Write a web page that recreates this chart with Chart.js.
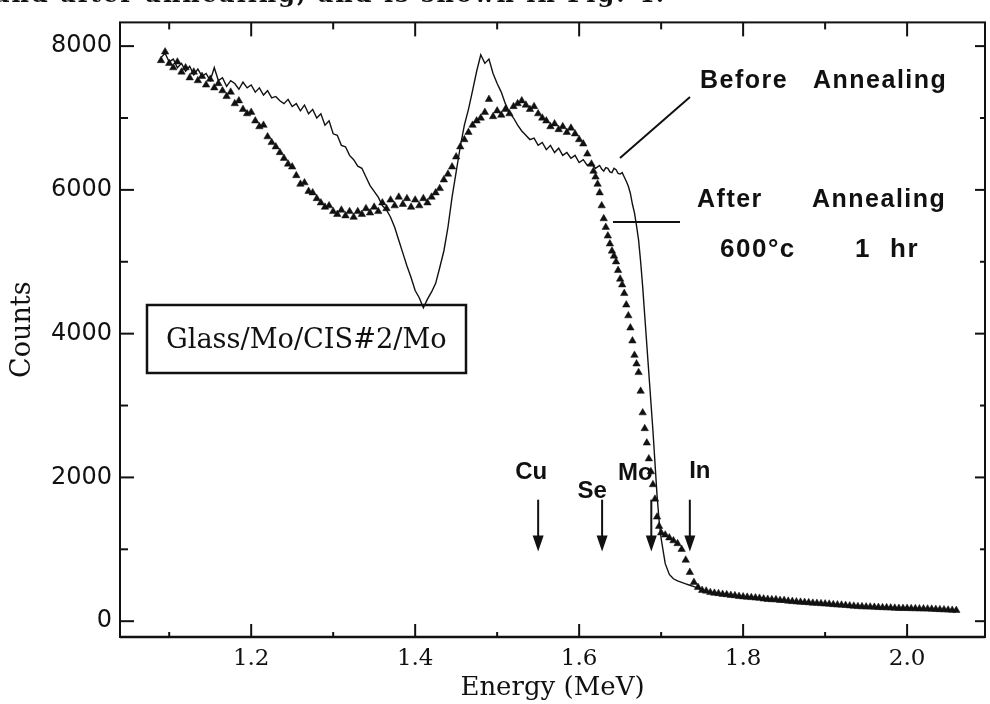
<!DOCTYPE html>
<html>
<head>
<meta charset="utf-8">
<script src="https://cdn.jsdelivr.net/npm/chart.js@4/dist/chart.umd.min.js"></script>
<style>
  html, body { margin: 0; padding: 0; background: #fff; }
  #wrap { width: 990px; height: 704px; }
</style>
</head>
<body>
<div id="wrap"><canvas id="rbsChart" width="990" height="704"></canvas></div>
<script>
// Energy channels (MeV), sampled finer on the steep edge
const energyA = [1.09,1.095,1.1,1.105,1.11,1.115,1.12,1.125,1.13,1.135,1.14,1.145,1.15,1.155,1.16,1.165,1.17,1.175,1.18,1.185,1.19,1.195,1.2,1.205,1.21,1.215,1.22,1.225,1.23,1.235,1.24,1.245,1.25,1.255,1.26,1.265,1.27,1.275,1.28,1.285,1.29,1.295,1.3,1.305,1.31,1.315,1.32,1.325,1.33,1.335,1.34,1.345,1.35,1.355,1.36,1.365,1.37,1.375,1.38,1.385,1.39,1.395,1.4,1.405,1.41,1.415,1.42,1.425,1.43,1.435,1.44,1.445,1.45,1.455,1.46,1.465,1.47,1.475,1.48,1.485,1.49,1.495,1.5,1.505,1.51,1.515,1.52,1.525,1.53,1.535,1.54,1.545,1.55,1.555,1.56,1.565,1.57,1.575,1.58,1.585,1.59,1.595,1.6,1.605,1.61,1.615];
const energyB = [1.6175,1.62,1.6225,1.625,1.6275,1.63,1.6325,1.635,1.6375,1.64,1.6425,1.645,1.6475,1.65,1.6525,1.655,1.6575,1.66,1.6625,1.665,1.6675,1.67,1.6725,1.675,1.6775,1.68,1.6825,1.685,1.6875,1.69,1.6925,1.695,1.6975,1.7];
const energyC = [1.705,1.71,1.715,1.72,1.725,1.73,1.735,1.74,1.745,1.75,1.755,1.76,1.765,1.77,1.775,1.78,1.785,1.79,1.795,1.8,1.805,1.81,1.815,1.82,1.825,1.83,1.835,1.84,1.845,1.85,1.855,1.86,1.865,1.87,1.875,1.88,1.885,1.89,1.895,1.9,1.905,1.91,1.915,1.92,1.925,1.93,1.935,1.94,1.945,1.95,1.955,1.96,1.965,1.97,1.975,1.98,1.985,1.99,1.995,2.0,2.005,2.01,2.015,2.02,2.025,2.03,2.035,2.04,2.045,2.05,2.055,2.06];

// Before annealing (solid line)
const beforeA = [7840,7900,7780,7820,7700,7760,7650,7720,7600,7680,7580,7620,7520,7700,7520,7560,7440,7520,7480,7400,7500,7420,7460,7360,7420,7320,7380,7280,7300,7240,7200,7260,7160,7200,7100,7180,7060,7120,7000,7060,6900,6960,6780,6760,6620,6600,6480,6420,6330,6300,6180,6060,5980,5900,5780,5720,5620,5480,5300,5120,4940,4780,4600,4500,4360,4480,4580,4700,4920,5150,5480,5900,6250,6600,6900,7120,7380,7650,7880,7760,7820,7620,7480,7360,7200,7080,7000,6900,6820,6760,6700,6720,6620,6660,6560,6620,6520,6580,6480,6520,6440,6480,6380,6420,6340,6380];
const beforeB = [6330,6300,6320,6340,6290,6260,6310,6300,6250,6240,6300,6280,6230,6220,6240,6180,6120,6050,5950,5800,5680,5500,5300,5000,4650,4250,3850,3450,3050,2650,2200,1750,1400,1150];
const beforeC = [800,650,590,560,540,520,500,480,460,430,410,400,395,380,378,368,360,352,348,340,332,330,322,318,312,305,302,298,292,288,282,276,272,266,264,258,254,250,246,244,238,234,230,224,220,214,212,206,204,200,198,194,192,190,188,184,182,180,179,178,176,175,173,171,170,167,164,162,159,156,153,150];

// After annealing 600'c 1 hr (triangles)
const afterA = [7800,7920,7760,7700,7780,7640,7700,7560,7640,7520,7580,7460,7540,7420,7480,7380,7300,7360,7200,7240,7120,7060,7080,6960,6880,6900,6740,6660,6600,6520,6440,6360,6320,6200,6080,6100,5980,5960,5880,5820,5760,5780,5700,5660,5720,5640,5700,5620,5700,5660,5740,5680,5760,5700,5820,5740,5860,5780,5900,5800,5880,5760,5860,5780,5880,5820,5900,5960,6020,6140,6220,6320,6460,6600,6700,6800,6900,6960,7000,7080,7260,7020,7100,7040,7120,7060,7160,7200,7240,7180,7120,7160,7060,7000,6960,6880,6920,6840,6880,6800,6860,6780,6700,6640,6500,6360];
const afterB = [6260,6180,6080,5960,5780,5600,5480,5360,5250,5150,5080,5000,4880,4760,4680,4560,4400,4250,4080,3900,3700,3580,3460,3200,2900,2680,2480,2260,2080,1900,1700,1450,1320,1230];
const afterC = [1200,1160,1120,1080,1000,850,680,540,470,430,420,400,390,385,375,370,360,355,345,340,335,330,325,320,310,305,300,300,290,290,280,275,270,265,262,258,252,250,245,242,238,232,228,225,220,215,210,205,202,200,198,195,192,190,188,185,182,180,178,178,176,175,173,172,170,168,165,162,160,156,153,150];

const xTickValues = [1.1,1.2,1.3,1.4,1.5,1.6,1.7,1.8,1.9,2.0];
const yTickValues = [0,1000,2000,3000,4000,5000,6000,7000,8000];

const edgeNames = ["Cu", "Se", "Mo", "In"];
const edgeEnergies = [1.55, 1.628, 1.688, 1.735];

function toPoints(xs, ys) {
    return xs.map((v, i) => ({x: v, y: ys[i]}));
}

const energy = energyA.concat(energyB, energyC);
const beforePoints = toPoints(energy, beforeA.concat(beforeB, beforeC));
const afterPoints = toPoints(energy, afterA.concat(afterB, afterC));

function isMajorX(v) {
    return Math.round(v * 10) % 2 === 0;
}

function strokeLine(ctx, x1, y1, x2, y2) {
    ctx.beginPath();
    ctx.moveTo(x1, y1);
    ctx.lineTo(x2, y2);
    ctx.stroke();
}

// frame, inward ticks and the hand-written notes of the figure
const frameAndNotes = {
    id: "frameAndNotes",
    afterDraw(chart) {
        const {ctx, chartArea: {left, right, top, bottom}, scales: {x, y}} = chart;
        ctx.save();
        ctx.strokeStyle = "#111";
        ctx.fillStyle = "#111";

        ctx.lineWidth = 2;
        ctx.strokeRect(left, top, right - left, bottom - top);
        ctx.lineWidth = 2.5;
        strokeLine(ctx, left, bottom, right, bottom);

        ctx.lineWidth = 2;
        for (const v of xTickValues) {
            const px = x.getPixelForValue(v);
            const major = isMajorX(v);
            strokeLine(ctx, px, bottom, px, bottom - (major ? 13 : 5));
            strokeLine(ctx, px, top, px, top + (major ? 14 : 7));
        }
        for (const v of yTickValues) {
            const py = y.getPixelForValue(v);
            const major = v % 2000 === 0;
            strokeLine(ctx, left, py, left + (major ? 14 : 8), py);
            strokeLine(ctx, right, py, right - (major ? 10 : 5), py);
        }

        // sample box
        ctx.lineWidth = 2.5;
        ctx.strokeRect(147, 305, 319, 68);
        ctx.font = '27px "DejaVu Serif"';
        const label = "Glass/Mo/CIS#2/Mo";
        const w = ctx.measureText(label).width;
        const size = 27 * 281 / w;
        ctx.font = size.toFixed(1) + 'px "DejaVu Serif"';
        ctx.textBaseline = "alphabetic";
        ctx.textAlign = "left";
        ctx.fillText(label, 166, 348);

        // series notes
        ctx.font = 'bold 25px "Liberation Sans"';
        ctx.letterSpacing = "1.5px";
        ctx.fillText("Before", 700, 88);
        ctx.fillText("Annealing", 813, 88);
        ctx.fillText("After", 697, 207);
        ctx.fillText("Annealing", 812, 207);
        ctx.font = 'bold 26px "Liberation Sans"';
        ctx.fillText("600°c", 720, 257);
        ctx.fillText("1", 855, 257);
        ctx.fillText("hr", 890, 257);

        ctx.lineWidth = 2;
        strokeLine(ctx, 620, 158, 690, 97);
        strokeLine(ctx, 613, 222, 680, 222);

        // element edge arrows
        const labelDx = [-7, -10, -16, 10];
        const labelY = [479, 498, 480, 478];
        ctx.font = 'bold 24px "Liberation Sans"';
        ctx.letterSpacing = "0px";
        ctx.textAlign = "center";
        edgeNames.forEach((name, i) => {
            const px = x.getPixelForValue(edgeEnergies[i]);
            const y1 = y.getPixelForValue(1690);
            const y2 = y.getPixelForValue(970);
            ctx.lineWidth = 2;
            strokeLine(ctx, px, y1, px, y2 - 14);
            ctx.beginPath();
            ctx.moveTo(px - 5.5, y2 - 16);
            ctx.lineTo(px + 5.5, y2 - 16);
            ctx.lineTo(px, y2);
            ctx.closePath();
            ctx.fill();
            ctx.fillText(name, px + labelDx[i], labelY[i]);
        });

        // cut caption line from the page above
        ctx.letterSpacing = "2px";
        ctx.textAlign = "left";
        ctx.font = 'bold 24px "DejaVu Serif"';
        ctx.fillText("and after annealing, and is shown in Fig. 4.", -6, 2);
        ctx.restore();
    },
};

new Chart(document.getElementById("rbsChart"), {
    data: {
        datasets: [
            {
                type: "line",
                label: "Before Annealing",
                data: beforePoints,
                borderColor: "#111",
                borderWidth: 1.4,
                pointRadius: 0,
                tension: 0,
                order: 2,
            },
            {
                type: "scatter",
                label: "After Annealing",
                data: afterPoints,
                pointStyle: "triangle",
                pointRadius: 4.3,
                backgroundColor: "#111",
                borderColor: "#111",
                borderWidth: 0.5,
                order: 1,
            },
        ],
    },
    options: {
        responsive: false,
        animation: false,
        devicePixelRatio: 1,
        layout: {padding: {top: 13, right: 5, left: 0, bottom: 0}},
        plugins: {legend: {display: false}, tooltip: {enabled: false}},
        scales: {
            x: {
                type: "linear",
                min: 1.04,
                max: 2.095,
                afterFit(s) { s.height = 67; },
                afterBuildTicks(s) { s.ticks = xTickValues.map(v => ({value: v})); },
                grid: {display: false, drawTicks: false},
                border: {display: false},
                ticks: {
                    padding: 8,
                    autoSkip: false,
                    maxRotation: 0,
                    color: "#111",
                    font: {family: "DejaVu Serif", size: 23},
                    callback: v => isMajorX(v) ? v.toFixed(1) : "",
                },
                title: {
                    display: true,
                    text: "Energy (MeV)",
                    color: "#111",
                    font: {family: "DejaVu Serif", size: 26},
                    padding: {top: 0, bottom: 0},
                },
            },
            y: {
                type: "linear",
                min: -220,
                max: 8330,
                afterFit(s) { s.width = 120; },
                afterBuildTicks(s) { s.ticks = yTickValues.map(v => ({value: v})); },
                grid: {display: false, drawTicks: false},
                border: {display: false},
                ticks: {
                    padding: 8,
                    color: "#111",
                    font: {family: "DejaVu Sans", size: 24},
                    callback: v => v % 2000 === 0 ? String(v) : "",
                },
                title: {
                    display: true,
                    text: "Counts",
                    color: "#111",
                    font: {family: "DejaVu Serif", size: 27},
                    padding: {top: 7, bottom: 0},
                },
            },
        },
    },
    plugins: [frameAndNotes],
});
</script>
</body>
</html>
